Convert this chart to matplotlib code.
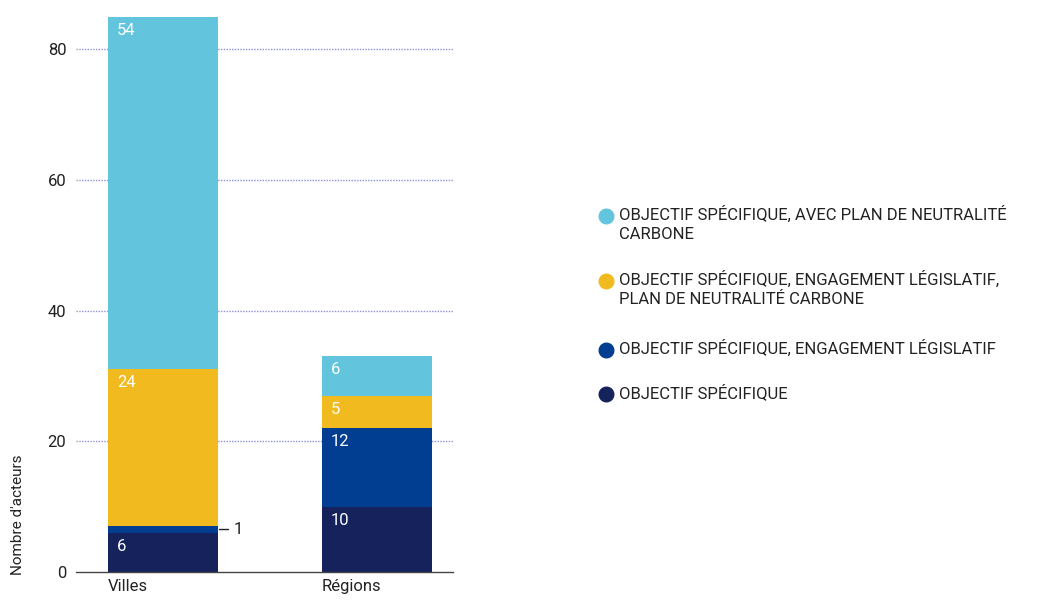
import numpy as np
import matplotlib
matplotlib.use('Agg')
import matplotlib.pyplot as plt
from matplotlib.lines import Line2D

plt.rcParams['font.family'] = ['Roboto', 'DejaVu Sans']

# data
categories = ['Villes', 'Régions']
series_labels = [
    'OBJECTIF SPÉCIFIQUE',
    'OBJECTIF SPÉCIFIQUE, ENGAGEMENT LÉGISLATIF',
    'OBJECTIF SPÉCIFIQUE, ENGAGEMENT LÉGISLATIF,\nPLAN DE NEUTRALITÉ CARBONE',
    'OBJECTIF SPÉCIFIQUE, AVEC PLAN DE NEUTRALITÉ\nCARBONE',
]
objectif = [6, 10]
engagement = [1, 12]
engagement_plan = [24, 5]
avec_plan = [54, 6]
yticks = [0, 20, 40, 60, 80]

colors = ['#15225B', '#013D91', '#F1BA1F', '#63C4DE']
series = [objectif, engagement, engagement_plan, avec_plan]

fig = plt.figure(figsize=(10.55, 6.01), dpi=100)
ax = fig.add_axes([76/1055, 1 - 572/601, (453-76)/1055, (572-10)/601])

x = np.arange(len(categories))
width = 0.514
bottom = np.zeros(len(categories))
for vals, col in zip(series, colors):
    vals = np.array(vals)
    ax.bar(x, vals, width, bottom=bottom, color=col, zorder=2)
    for i, v in enumerate(vals):
        if v >= 3:
            ax.annotate(str(v), xy=(x[i] - width/2, bottom[i] + v),
                        xytext=(9, -6), textcoords='offset pixels',
                        ha='left', va='top', color='white', fontsize=12)
        else:
            # small segment -> label outside with a leader
            ax.annotate(str(v), xy=(x[i] + width/2, bottom[i] + v/2),
                        xytext=(16, 0), textcoords='offset pixels',
                        ha='left', va='center', color='#222222', fontsize=12,
                        arrowprops=dict(arrowstyle='-', color='#222222', lw=1,
                                        shrinkA=2, shrinkB=1))
    bottom += vals

ax.set_xlim(-0.407, 1.355)
ax.set_ylim(0, 86)
ax.set_yticks(yticks)
ax.set_yticklabels([str(t) for t in yticks], fontsize=12, color='#222222')
for t in yticks[1:]:
    ax.axhline(t, color='#8f8fe0', lw=1, ls=(0, (1, 1)), zorder=1)

ax.set_xticks(x - width/2)
ax.set_xticklabels(categories, fontsize=12, color='#222222', ha='left')
ax.tick_params(axis='both', length=0)
ax.tick_params(axis='y', pad=7)
ax.tick_params(axis='x', pad=5)

for s in ['top', 'right', 'left']:
    ax.spines[s].set_visible(False)
ax.spines['bottom'].set_color('#444444')
ax.spines['bottom'].set_linewidth(1)

ax.set_ylabel("Nombre d'acteurs", fontsize=11, color='#222222', loc='bottom')
ax.yaxis.set_label_coords(-0.134, -0.005)

# legend drawn by hand so the dot sits on the first line
leg_y = [216, 281, 350, 394]
order = [3, 2, 1, 0]
for yy, k in zip(leg_y, order):
    fy = 1 - yy/601
    fig.add_artist(Line2D([606/1055], [fy], marker='o', markersize=10.5,
                          color=colors[k], transform=fig.transFigure))
    fig.text(619/1055, fy + 10/601, series_labels[k], fontsize=12, color='#222222',
             ha='left', va='top', linespacing=1.3)

fig.savefig('out.png', dpi=100)
